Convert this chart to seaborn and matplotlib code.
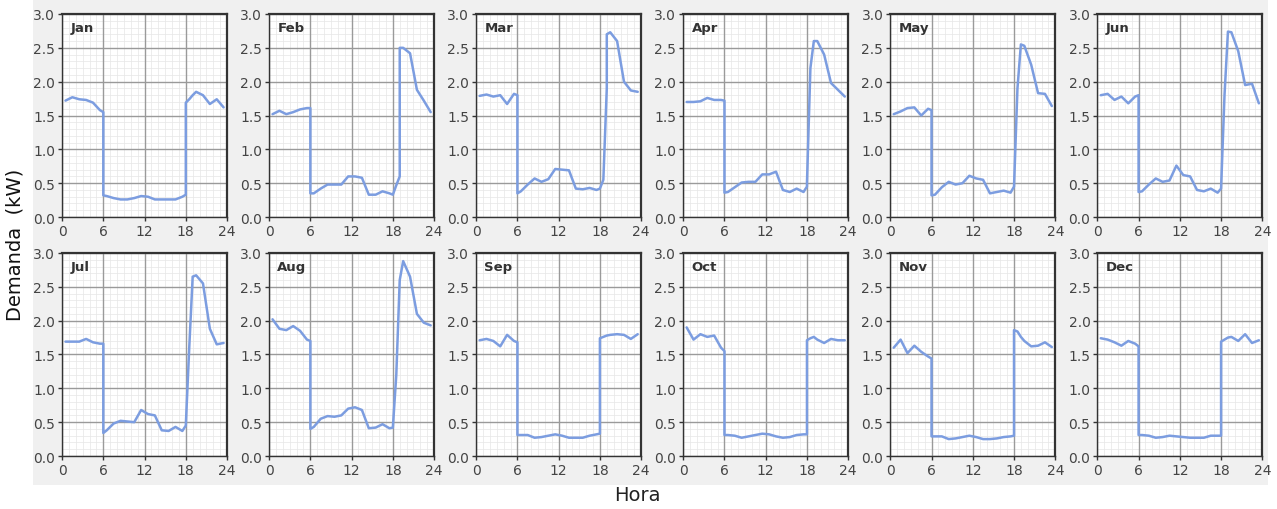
"""Monthly average daily load profiles (12 small multiples)."""

import matplotlib
matplotlib.use("Agg")
import matplotlib.pyplot as plt
from matplotlib.patches import Rectangle
from matplotlib.ticker import MultipleLocator, FormatStrFormatter
import numpy as np
import pandas as pd
import seaborn as sns


MONTHS = ["Jan", "Feb", "Mar", "Apr", "May", "Jun",
          "Jul", "Aug", "Sep", "Oct", "Nov", "Dec"]

# shared time grid (h); repeated hours hold the step changes
HOURS = [0.5, 1.5, 2.5, 3.5, 4.5, 5.5, 6, 6,
         6.5, 7.5, 8.5, 9.5, 10.5, 11.5, 12.5, 13.5, 14.5, 15.5, 16.5, 17.5,
         18, 18, 18.5, 19, 19, 19.5, 20.5, 21.5, 22.5, 23.5]

JAN = [1.72, 1.77, 1.74, 1.73, 1.69, 1.58, 1.55, 0.32,
       0.31, 0.28, 0.26, 0.26, 0.28, 0.31, 0.30, 0.26, 0.26, 0.26, 0.26, 0.30,
       0.33, 1.69, 1.74, 1.80, 1.80, 1.85, 1.80, 1.67, 1.74, 1.62]
FEB = [1.52, 1.57, 1.52, 1.55, 1.59, 1.61, 1.61, 0.35,
       0.35, 0.42, 0.48, 0.48, 0.48, 0.60, 0.60, 0.58, 0.33, 0.33, 0.38, 0.35,
       0.33, 0.33, 0.47, 0.60, 2.50, 2.50, 2.42, 1.88, 1.72, 1.55]
MAR = [1.79, 1.81, 1.78, 1.80, 1.67, 1.82, 1.80, 0.35,
       0.38, 0.48, 0.57, 0.52, 0.56, 0.71, 0.70, 0.69, 0.42, 0.41, 0.43, 0.40,
       0.42, 0.42, 0.55, 1.90, 2.70, 2.73, 2.60, 2.00, 1.87, 1.85]
APR = [1.70, 1.70, 1.71, 1.76, 1.73, 1.73, 1.72, 0.36,
       0.37, 0.44, 0.51, 0.52, 0.52, 0.63, 0.63, 0.67, 0.40, 0.37, 0.42, 0.37,
       0.45, 0.50, 2.20, 2.60, 2.60, 2.60, 2.40, 1.98, 1.88, 1.78]
MAY = [1.52, 1.56, 1.61, 1.62, 1.50, 1.60, 1.58, 0.32,
       0.33, 0.44, 0.52, 0.48, 0.50, 0.61, 0.57, 0.55, 0.35, 0.37, 0.39, 0.36,
       0.45, 0.45, 1.90, 2.55, 2.55, 2.53, 2.25, 1.83, 1.82, 1.64]
JUN = [1.80, 1.82, 1.73, 1.78, 1.68, 1.78, 1.80, 0.37,
       0.38, 0.48, 0.57, 0.52, 0.54, 0.76, 0.62, 0.60, 0.40, 0.38, 0.42, 0.36,
       0.42, 0.42, 1.80, 2.74, 2.74, 2.73, 2.45, 1.95, 1.97, 1.68]
JUL = [1.69, 1.69, 1.69, 1.73, 1.68, 1.66, 1.66, 0.34,
       0.38, 0.48, 0.52, 0.51, 0.50, 0.68, 0.62, 0.60, 0.38, 0.37, 0.43, 0.37,
       0.45, 0.45, 1.60, 2.65, 2.65, 2.67, 2.55, 1.88, 1.65, 1.67]
AUG = [2.02, 1.88, 1.86, 1.92, 1.85, 1.72, 1.70, 0.40,
       0.43, 0.55, 0.59, 0.58, 0.60, 0.70, 0.72, 0.68, 0.41, 0.42, 0.47, 0.41,
       0.42, 0.42, 1.20, 2.60, 2.60, 2.88, 2.65, 2.10, 1.97, 1.93]
SEP = [1.71, 1.73, 1.70, 1.62, 1.79, 1.70, 1.68, 0.31,
       0.31, 0.31, 0.27, 0.28, 0.30, 0.32, 0.30, 0.27, 0.27, 0.27, 0.30, 0.32,
       0.33, 1.74, 1.76, 1.78, 1.78, 1.79, 1.80, 1.79, 1.73, 1.80]
OCT = [1.90, 1.72, 1.80, 1.76, 1.78, 1.60, 1.55, 0.31,
       0.31, 0.30, 0.27, 0.29, 0.31, 0.33, 0.32, 0.29, 0.27, 0.28, 0.31, 0.32,
       0.32, 1.71, 1.74, 1.76, 1.76, 1.72, 1.67, 1.73, 1.71, 1.71]
NOV = [1.60, 1.72, 1.52, 1.63, 1.54, 1.47, 1.44, 0.29,
       0.29, 0.29, 0.25, 0.26, 0.28, 0.30, 0.28, 0.25, 0.25, 0.26, 0.28, 0.29,
       0.30, 1.86, 1.84, 1.76, 1.76, 1.70, 1.62, 1.63, 1.68, 1.61]
DEC = [1.74, 1.72, 1.68, 1.63, 1.70, 1.66, 1.62, 0.31,
       0.31, 0.30, 0.27, 0.28, 0.30, 0.29, 0.28, 0.27, 0.27, 0.27, 0.30, 0.30,
       0.30, 1.69, 1.72, 1.75, 1.75, 1.76, 1.70, 1.80, 1.67, 1.71]

PROFILES = [JAN, FEB, MAR, APR, MAY, JUN, JUL, AUG, SEP, OCT, NOV, DEC]

LINE_COLOR = "#7C9DE0"
FRAME = "#333333"
MAJOR_GRID = "#9A9A9A"

sns.set_theme(style="white")
plt.rcParams["font.family"] = ["DejaVu Sans"]

df = pd.concat(
    [pd.DataFrame({"month": m, "step": np.arange(len(HOURS)),
                   "hour": HOURS, "kw": vals})
     for m, vals in zip(MONTHS, PROFILES)],
    ignore_index=True,
)

fig, axes = plt.subplots(2, 6, figsize=(12.77, 5.10), dpi=100)
fig.subplots_adjust(left=0.0486, right=0.9885, top=0.9706, bottom=0.1039,
                    wspace=0.255, hspace=0.177)

# light gray panel behind the grid of charts
fig.patches.append(Rectangle((33 / 1277, 1 - 486 / 510), (1268 - 33) / 1277,
                             486 / 510, transform=fig.transFigure,
                             facecolor="#F0F0F0", edgecolor="none", zorder=-5))

for ax, month in zip(axes.flat, MONTHS):
    sub = df[df["month"] == month]
    sns.lineplot(data=sub, x="hour", y="kw", estimator=None, sort=False,
                 color=LINE_COLOR, lw=1.8, ax=ax, zorder=3)
    ax.set_facecolor("white")
    ax.set_xlim(0, 24)
    ax.set_ylim(0, 3.0)
    ax.xaxis.set_major_locator(MultipleLocator(6))
    ax.xaxis.set_minor_locator(MultipleLocator(1))
    ax.yaxis.set_major_locator(MultipleLocator(0.5))
    ax.yaxis.set_minor_locator(MultipleLocator(0.1))
    ax.yaxis.set_major_formatter(FormatStrFormatter("%.1f"))
    # fine grid from the axis, coarse grid drawn on top of it
    ax.grid(which="minor", color="#E6E6E6", lw=0.5, ls="-")
    ax.grid(which="major", visible=False)
    ax.set_axisbelow(True)
    for xt in ax.get_xticks()[1:-1]:
        ax.axvline(xt, color=MAJOR_GRID, lw=1.0, zorder=1)
    for yt in ax.get_yticks()[1:-1]:
        ax.axhline(yt, color=MAJOR_GRID, lw=1.0, zorder=1)
    ax.tick_params(which="major", length=3, width=1, color=FRAME,
                   labelsize=10, labelcolor="#444444", pad=2)
    ax.tick_params(which="minor", length=2, width=0.8, color=FRAME)
    ax.tick_params(left=True, bottom=True)
    for side, spine in ax.spines.items():
        spine.set_visible(True)
        spine.set_color(FRAME)
        spine.set_linewidth(1.6 if side in ("top", "right") else 1.0)
    ax.set_xlabel("")
    ax.set_ylabel("")
    ax.text(0.05, 0.965, month, transform=ax.transAxes, ha="left", va="top",
            fontsize=9.5, fontweight="bold", color="#333333", zorder=4)

fig.text(0.012, 0.52, "Demanda  (kW)", rotation=90, ha="center", va="center",
         fontsize=14, color="#111111")
fig.text(0.499, 0.028, "Hora", ha="center", va="center", fontsize=14,
         color="#222222")

fig.savefig("out.png", dpi=100, facecolor="white")
